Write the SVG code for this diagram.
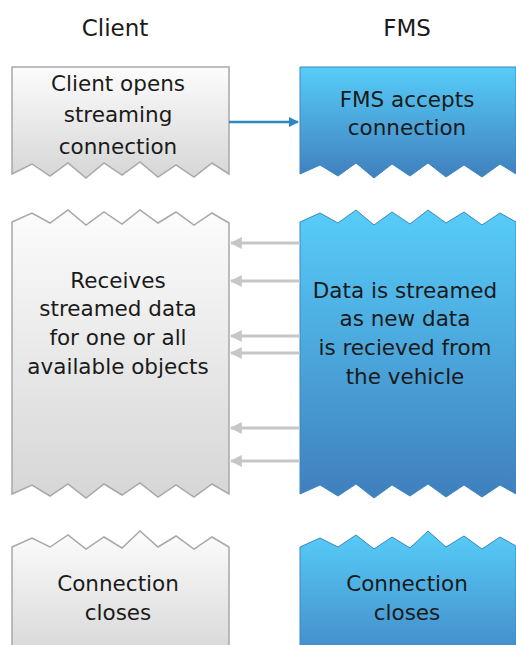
<svg xmlns="http://www.w3.org/2000/svg" width="516" height="645" viewBox="0 0 516 645">
<defs>
<linearGradient id="gGray" x1="0" y1="0" x2="0" y2="1"><stop offset="0" stop-color="#fcfcfc"/><stop offset="1" stop-color="#d6d6d6"/></linearGradient>
<linearGradient id="gBlue" x1="0" y1="0" x2="0" y2="1"><stop offset="0" stop-color="#57cdf9"/><stop offset="1" stop-color="#3f7fbd"/></linearGradient>
<linearGradient id="gBlue2" x1="0" y1="0" x2="0" y2="1"><stop offset="0" stop-color="#57cdf9"/><stop offset="1" stop-color="#4289c6"/></linearGradient>
<marker id="ab" viewBox="0 0 10 10" refX="9" refY="5" markerWidth="4" markerHeight="4" orient="auto"><path d="M0,0 L10,5 L0,10 z" fill="#2f86c3"/></marker>
<marker id="ag" viewBox="0 0 10 10" refX="9" refY="5" markerWidth="4" markerHeight="4" orient="auto"><path d="M0,0 L10,5 L0,10 z" fill="#c6c6c6"/></marker>
</defs>
<style>
.t{font-family:"DejaVu Sans","Liberation Sans",sans-serif;font-size:21.5px;fill:#1a1a1a;text-anchor:middle}
.h{font-family:"DejaVu Sans","Liberation Sans",sans-serif;font-size:23px;fill:#1a1a1a;text-anchor:middle}
.gray{fill:url(#gGray);stroke:#a8a8a8;stroke-width:1.5}
.blue{fill:url(#gBlue);stroke:#3d86c0;stroke-width:1}
.blue2{fill:url(#gBlue2);stroke:#3d86c0;stroke-width:1}
.cg{stroke:#c6c6c6;stroke-width:3;fill:none;marker-end:url(#ag)}
.cb{stroke:#2f86c3;stroke-width:2.5;fill:none;marker-end:url(#ab)}
</style>
<text class="h" x="115" y="36">Client</text>
<text class="h" x="407" y="36">FMS</text>

<g id="client-open">
<path class="gray" d="M12,67 L229,67 L229,174 L212,163 L194,177 L176,165 L158,177 L140,162 L122,175 L104,163 L86,178 L68,163 L50,176 L32,164 L12,174 Z"/>
<text class="t" x="118" y="91">Client opens</text>
<text class="t" x="118" y="122">streaming</text>
<text class="t" x="118" y="154">connection</text>
</g>
<g id="fms-accept">
<path class="blue" d="M300,67 L516,67 L516,174 L500,164 L482,177 L464,165 L446,177 L428,163 L410,176 L392,164 L374,178 L356,163 L338,176 L320,165 L300,174 Z"/>
<text class="t" x="407" y="107">FMS accepts</text>
<text class="t" x="407" y="135">connection</text>
</g>

<g id="client-receive">
<path class="gray" d="M12,222 L32,213 L50,223 L68,210 L86,225 L104,212 L122,224 L140,210 L158,223 L176,212 L194,225 L212,213 L229,223 L229,494 L212,484 L194,497 L176,485 L158,497 L140,483 L122,495 L104,484 L86,498 L68,484 L50,496 L32,485 L12,494 Z"/>
<text class="t" x="118" y="288">Receives</text>
<text class="t" x="118" y="316">streamed data</text>
<text class="t" x="118" y="345">for one or all</text>
<text class="t" x="118" y="374">available objects</text>
</g>
<g id="fms-stream">
<path class="blue" d="M300,222 L320,213 L338,223 L356,210 L374,225 L392,212 L410,224 L428,210 L446,223 L464,212 L482,225 L500,213 L516,222 L516,494 L500,485 L482,497 L464,485 L446,497 L428,484 L410,496 L392,485 L374,498 L356,484 L338,496 L320,485 L300,494 Z"/>
<text class="t" x="405" y="298">Data is streamed</text>
<text class="t" x="405" y="326">as new data</text>
<text class="t" x="405" y="355">is recieved from</text>
<text class="t" x="405" y="384">the vehicle</text>
</g>

<g id="client-close">
<path class="gray" d="M12,547 L32,538 L50,547 L68,535 L86,549 L104,537 L122,548 L140,531 L158,547 L176,536 L194,549 L212,537 L229,547 L229,660 L12,660 Z"/>
<text class="t" x="118" y="591">Connection</text>
<text class="t" x="118" y="620">closes</text>
</g>
<g id="fms-close">
<path class="blue2" d="M300,547 L320,538 L338,547 L356,535 L374,549 L392,537 L410,548 L428,531 L446,547 L464,536 L482,549 L500,537 L516,546 L516,660 L300,660 Z"/>
<text class="t" x="407" y="591">Connection</text>
<text class="t" x="407" y="620">closes</text>
</g>

<g id="connectors">
<line class="cb" x1="229" y1="122" x2="298" y2="122"/>
<line class="cg" x1="300" y1="243" x2="231" y2="243"/>
<line class="cg" x1="300" y1="281" x2="231" y2="281"/>
<line class="cg" x1="300" y1="336" x2="231" y2="336"/>
<line class="cg" x1="300" y1="353" x2="231" y2="353"/>
<line class="cg" x1="300" y1="428" x2="231" y2="428"/>
<line class="cg" x1="300" y1="461" x2="231" y2="461"/>
</g>
</svg>
